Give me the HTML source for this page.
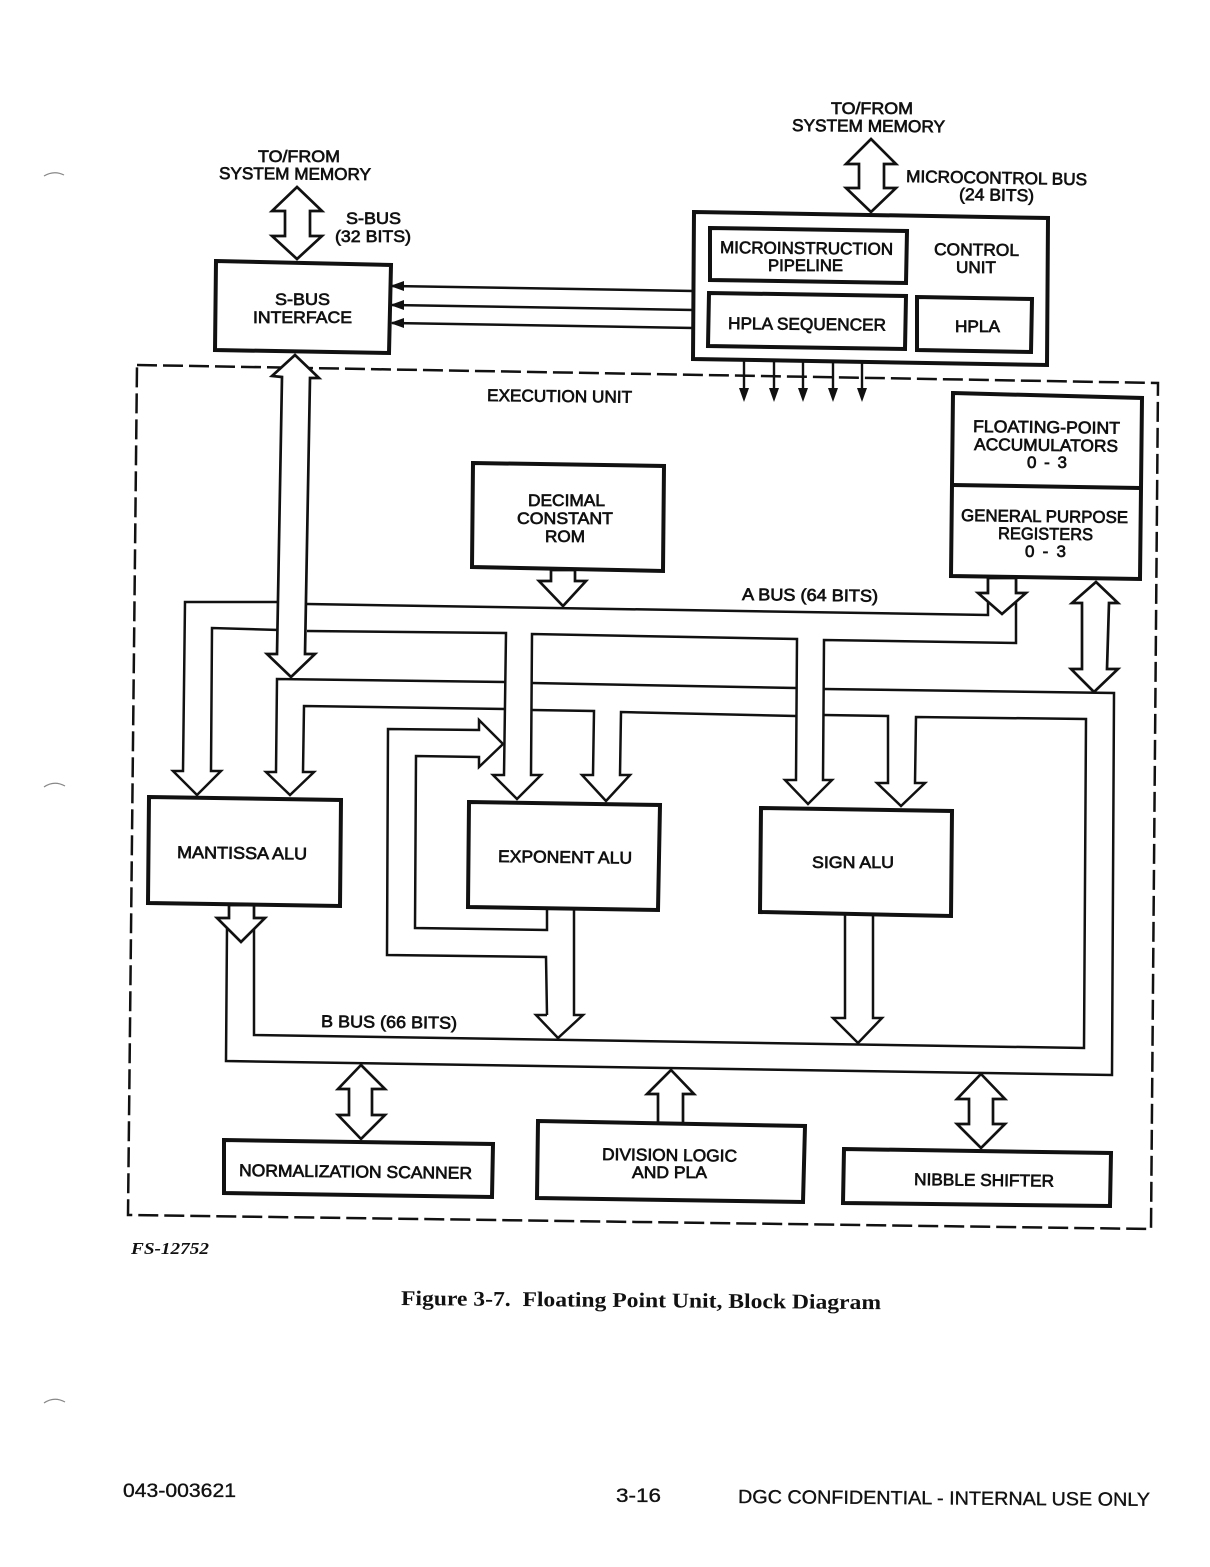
<!DOCTYPE html>
<html><head><meta charset="utf-8"><style>
html,body{margin:0;padding:0;background:#fff}
svg{display:block}
text{font-family:"Liberation Sans",sans-serif;font-size:17px;fill:#111;stroke:#111;stroke-width:.7}
.f{font-family:"Liberation Serif",serif;font-weight:bold;stroke:none;font-size:21px}
.p{font-size:19px;stroke-width:.35}
.l{fill:none;stroke:#111;stroke-width:2.5;stroke-linejoin:miter}
.a{fill:#fff;stroke:#111;stroke-width:2.7;stroke-linejoin:miter}
.b{fill:#fff;stroke:#111;stroke-width:4}
</style></head><body>
<svg width="1210" height="1567" viewBox="0 0 1210 1567" xmlns="http://www.w3.org/2000/svg">
<rect width="1210" height="1567" fill="#fff"/>
<!-- scan marks -->
<path d="M44,176 Q54,170 64,175 M44,787 Q54,780 65,786 M44,1403 Q54,1396 65,1402" fill="none" stroke="#888" stroke-width="1.2"/>

<!-- dashed execution unit -->
<path d="M137,365 L1158,383 L1151,1229 L128,1215 Z" fill="none" stroke="#111" stroke-width="2.5" stroke-dasharray="20 6"/>

<!-- A bus -->
<polyline class="l" points="988,578 988,615 307,604"/>
<polyline class="l" points="279,602 185,602 183,771 173,771 197,795 221,771 211,771 212,628 279,630"/>
<polyline class="l" points="307,631 506,633 504,775 493,775 517,799 541,775 531,775 532,634 797,639 796,780 785,780 808,804 832,780 823,780 824,640 1016,643 1016,578"/>
<!-- B bus -->
<polyline class="l" points="505,682 277,679 276,772 266,772 290,795 314,772 303,772 304,706 505,709"/>
<polyline class="l" points="532,683 796,688"/>
<polyline class="l" points="532,710 594,711 593,775 582,775 606,801 630,775 620,775 621,712 796,716"/>
<polyline class="l" points="824,689 1114,693 1112,1075 226,1061 227,928"/>
<polyline class="l" points="824,715 888,716 888,783 877,783 901,806 925,783 915,783 916,717 1086,719 1084,1048 254,1035 254,928"/>
<!-- feedback -->
<polyline class="l" points="547,1015 546,957 387,955 388,729 479,730 479,720 503,744 479,767 479,757 416,756 415,928 547,930 547,910"/>
<polyline class="l" points="547,1015 536,1015 558,1038 583,1015 574,1015 574,910"/>
<!-- sign output -->
<polyline class="l" points="845,914 845,1018 833,1018 858,1043 882,1018 873,1018 873,914"/>

<!-- control to s-bus -->
<polyline class="l" points="392,286 694,291"/>
<polyline class="l" points="392,305 694,310"/>
<polyline class="l" points="392,323 694,328"/>
<path d="M390,286 L404,281 L404,291 Z M390,305 L404,300 L404,310 Z M390,323 L404,318 L404,328 Z" fill="#111"/>

<!-- control outputs -->
<g stroke="#111" stroke-width="2.4">
<line x1="744" y1="361" x2="744" y2="392"/><line x1="774" y1="361" x2="774" y2="392"/><line x1="803" y1="361" x2="803" y2="392"/><line x1="833" y1="361" x2="833" y2="392"/><line x1="862" y1="361" x2="862" y2="392"/>
</g>
<path d="M739,388 H749 L744,402 Z M769,388 H779 L774,402 Z M798,388 H808 L803,402 Z M828,388 H838 L833,402 Z M857,388 H867 L862,402 Z" fill="#111"/>

<!-- wide arrows -->
<polygon class="a" points="297,187 322,211 310,211 310,236 322,236 297,259 272,236 285,236 285,211 272,211"/>
<polygon class="a" points="871,139 896,164 884,164 884,188 896,188 871,212 846,188 859,188 859,164 846,164"/>
<polygon class="a" points="295,355 319,378 310,378 305,654 315,654 291,677 267,654 277,654 282,377 272,376"/>
<polygon class="a" points="551,570 551,581 539,581 563,606 586,581 575,581 575,570"/>
<polygon class="a" points="988,578 988,593 978,593 1002,614 1026,593 1016,593 1016,578"/>
<polygon class="a" points="1096,582 1118,603 1109,603 1107,669 1118,669 1094,692 1071,669 1082,669 1082,603 1072,603"/>
<polygon class="a" points="229,905 229,918 217,918 241,942 265,918 254,918 254,905"/>
<polygon class="a" points="361,1065 385,1089 372,1089 372,1115 385,1115 361,1139 338,1115 349,1115 349,1089 338,1089"/>
<polygon class="a" points="671,1070 694,1094 683,1094 683,1126 658,1126 658,1094 647,1094"/>
<polygon class="a" points="981,1074 1005,1099 993,1099 993,1124 1005,1124 981,1148 957,1124 969,1124 969,1099 957,1099"/>

<!-- boxes -->
<polygon class="b" points="216,261 391,265 389,353 215,350"/>
<polygon class="b" points="694,212 1048,218 1047,365 693,359"/>
<polygon class="b" points="710,228 907,231 906,283 710,280"/>
<polygon class="b" points="709,293 906,296 905,349 708,346"/>
<polygon class="b" points="917,297 1032,299 1031,352 917,350"/>
<polygon class="b" points="473,463 664,466 663,571 472,567"/>
<polygon class="b" points="953,393 1142,398 1140,579 951,576"/>
<line x1="953" y1="485" x2="1140" y2="488" stroke="#111" stroke-width="4"/>
<polygon class="b" points="149,797 341,800 340,906 148,903"/>
<polygon class="b" points="469,802 660,805 658,910 468,907"/>
<polygon class="b" points="761,808 952,811 951,916 760,912"/>
<polygon class="b" points="224,1140 493,1144 492,1197 224,1193"/>
<polygon class="b" points="538,1121 805,1126 803,1202 537,1198"/>
<polygon class="b" points="844,1149 1111,1153 1110,1206 843,1203"/>

<!-- labels -->
<text x="831" y="114" textLength="82" lengthAdjust="spacingAndGlyphs">TO/FROM</text>
<text x="792" y="131" textLength="153" lengthAdjust="spacingAndGlyphs" transform="rotate(.5 792 131)">SYSTEM MEMORY</text>
<text x="906" y="182" textLength="181" lengthAdjust="spacingAndGlyphs" transform="rotate(1 906 182)">MICROCONTROL BUS</text>
<text x="959" y="200" textLength="75" lengthAdjust="spacingAndGlyphs" transform="rotate(1 959 200)">(24 BITS)</text>
<text x="258" y="162" textLength="82" lengthAdjust="spacingAndGlyphs">TO/FROM</text>
<text x="219" y="179" textLength="152" lengthAdjust="spacingAndGlyphs" transform="rotate(.4 219 179)">SYSTEM MEMORY</text>
<text x="346" y="224" textLength="55" lengthAdjust="spacingAndGlyphs">S-BUS</text>
<text x="335" y="242" textLength="76" lengthAdjust="spacingAndGlyphs">(32 BITS)</text>
<text x="275" y="305" textLength="55" lengthAdjust="spacingAndGlyphs">S-BUS</text>
<text x="253" y="323" textLength="99" lengthAdjust="spacingAndGlyphs">INTERFACE</text>
<text x="720" y="253" textLength="173" lengthAdjust="spacingAndGlyphs" transform="rotate(.6 720 253)">MICROINSTRUCTION</text>
<text x="768" y="271" textLength="75" lengthAdjust="spacingAndGlyphs">PIPELINE</text>
<text x="934" y="255" textLength="85" lengthAdjust="spacingAndGlyphs" transform="rotate(.6 934 255)">CONTROL</text>
<text x="956" y="273" textLength="40" lengthAdjust="spacingAndGlyphs">UNIT</text>
<text x="728" y="329" textLength="158" lengthAdjust="spacingAndGlyphs" transform="rotate(.6 728 329)">HPLA SEQUENCER</text>
<text x="955" y="332" textLength="45" lengthAdjust="spacingAndGlyphs">HPLA</text>
<text x="487" y="401" textLength="145" lengthAdjust="spacingAndGlyphs" transform="rotate(.7 487 401)">EXECUTION UNIT</text>
<text x="973" y="432" textLength="147" lengthAdjust="spacingAndGlyphs" transform="rotate(.7 973 432)">FLOATING-POINT</text>
<text x="974" y="450" textLength="144" lengthAdjust="spacingAndGlyphs" transform="rotate(.7 974 450)">ACCUMULATORS</text>
<text x="1027" y="468" textLength="40" lengthAdjust="spacing">0 - 3</text>
<text x="961" y="521" textLength="167" lengthAdjust="spacingAndGlyphs" transform="rotate(.7 961 521)">GENERAL PURPOSE</text>
<text x="998" y="539" textLength="95" lengthAdjust="spacingAndGlyphs" transform="rotate(.7 998 539)">REGISTERS</text>
<text x="1025" y="557" textLength="41" lengthAdjust="spacing">0 - 3</text>
<text x="528" y="506" textLength="77" lengthAdjust="spacingAndGlyphs">DECIMAL</text>
<text x="517" y="524" textLength="96" lengthAdjust="spacingAndGlyphs">CONSTANT</text>
<text x="545" y="542" textLength="40" lengthAdjust="spacingAndGlyphs">ROM</text>
<text x="742" y="600" textLength="136" lengthAdjust="spacingAndGlyphs" transform="rotate(.7 742 600)">A BUS (64 BITS)</text>
<text x="177" y="858" textLength="130" lengthAdjust="spacingAndGlyphs" transform="rotate(.7 177 858)">MANTISSA ALU</text>
<text x="498" y="862" textLength="134" lengthAdjust="spacingAndGlyphs" transform="rotate(.7 498 862)">EXPONENT ALU</text>
<text x="812" y="868" textLength="82" lengthAdjust="spacingAndGlyphs">SIGN ALU</text>
<text x="321" y="1027" textLength="136" lengthAdjust="spacingAndGlyphs" transform="rotate(.7 321 1027)">B BUS (66 BITS)</text>
<text x="239" y="1176" textLength="233" lengthAdjust="spacingAndGlyphs" transform="rotate(.7 239 1176)">NORMALIZATION SCANNER</text>
<text x="602" y="1160" textLength="135" lengthAdjust="spacingAndGlyphs" transform="rotate(.7 602 1160)">DIVISION LOGIC</text>
<text x="632" y="1178" textLength="75" lengthAdjust="spacingAndGlyphs">AND PLA</text>
<text x="914" y="1185" textLength="140" lengthAdjust="spacingAndGlyphs" transform="rotate(.7 914 1185)">NIBBLE SHIFTER</text>

<text class="f" x="131" y="1254" font-style="italic" style="font-size:17px" textLength="78" lengthAdjust="spacingAndGlyphs">FS-12752</text>
<text class="f" x="401" y="1305" textLength="480" lengthAdjust="spacingAndGlyphs" transform="rotate(.5 401 1305)" xml:space="preserve">Figure 3-7.  Floating Point Unit, Block Diagram</text>

<text class="p" x="123" y="1497" textLength="113" lengthAdjust="spacingAndGlyphs">043-003621</text>
<text class="p" x="616" y="1502" textLength="45" lengthAdjust="spacingAndGlyphs">3-16</text>
<text class="p" x="738" y="1503" textLength="412" lengthAdjust="spacingAndGlyphs" transform="rotate(.4 738 1503)">DGC CONFIDENTIAL - INTERNAL USE ONLY</text>
</svg>
</body></html>
